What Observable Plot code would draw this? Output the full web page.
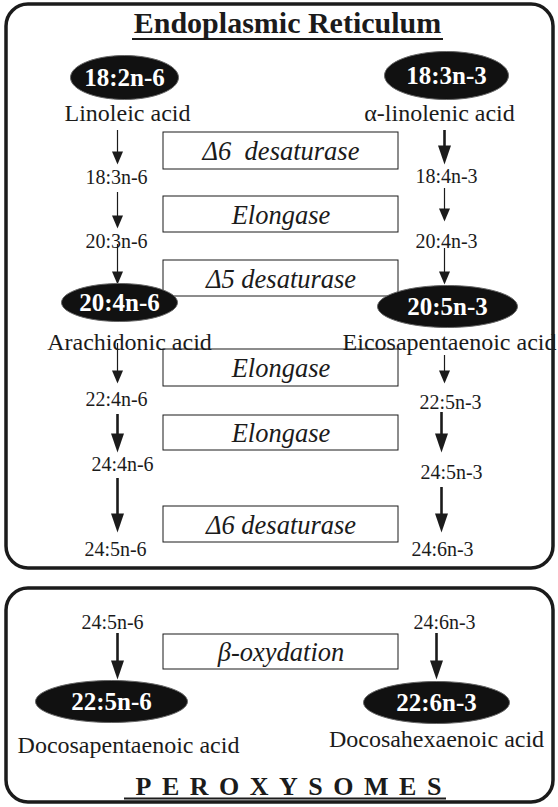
<!DOCTYPE html>
<html>
<head>
<meta charset="utf-8">
<script src="https://cdn.jsdelivr.net/npm/d3@7"></script>
<script src="https://cdn.jsdelivr.net/npm/@observablehq/plot@0.6"></script>
<style>
  html, body { margin: 0; padding: 0; background: #fff; }
</style>
</head>
<body>
<div id="chart"></div>
<script>
// ---------- content (data) ----------
const compartments = ["Endoplasmic Reticulum", "PEROXYSOMES"];
const n6Chain = ["18:2n-6", "18:3n-6", "20:3n-6", "20:4n-6", "22:4n-6", "24:4n-6", "24:5n-6"];
const n3Chain = ["18:3n-3", "18:4n-3", "20:4n-3", "20:5n-3", "22:5n-3", "24:5n-3", "24:6n-3"];
const n6Names = ["Linoleic acid", "Arachidonic acid"];
const n3Names = ["α-linolenic acid", "Eicosapentaenoic acid"];
const erEnzymes = ["Δ6  desaturase", "Elongase", "Δ5 desaturase", "Elongase", "Elongase", "Δ6 desaturase"];
const peroxInputs = ["24:5n-6", "24:6n-3"];
const peroxProducts = ["22:5n-6", "22:6n-3"];
const peroxNames = ["Docosapentaenoic acid", "Docosahexaenoic acid"];
const peroxEnzymes = ["β-oxydation"];

// ---------- layout (diagram geometry, in scale units) ----------
const W = 558, H = 807;
const compartmentBox = [
  {x1: 6, x2: 553, y1: 4, y2: 568},
  {x1: 6, x2: 553, y1: 588, y2: 802}
];
const titleLayout = [
  {x: 287, y: 32, ux1: 132, ux2: 443, uy: 38.5, size: 30, spacing: 0},
  {x: 288, y: 794, ux1: 124, ux2: 446, uy: 798, size: 26, spacing: 10.5}
];
const n6Step = [
  {x: 124, y: 77}, {x: 116, y: 183}, {x: 116, y: 247}, {x: 119, y: 302},
  {x: 116, y: 405}, {x: 122, y: 470}, {x: 115, y: 555}
];
const n3Step = [
  {x: 446, y: 75}, {x: 446, y: 182}, {x: 446, y: 247}, {x: 447, y: 306},
  {x: 450, y: 408}, {x: 451, y: 478}, {x: 442, y: 555}
];
const ellipseSize = {
  "18:2n-6": [54, 22], "18:3n-3": [62, 24], "20:4n-6": [58, 19], "20:5n-3": [70, 21],
  "22:5n-6": [76, 21], "22:6n-3": [73, 21]
};
const nameLayout = [
  {x: 127, y: 120}, {x: 129, y: 349},
  {x: 439, y: 120}, {x: 449, y: 349}
];
const enzymeBox = [
  {y1: 132, y2: 169}, {y1: 196, y2: 232}, {y1: 260, y2: 296},
  {y1: 349, y2: 386}, {y1: 415, y2: 450}, {y1: 506, y2: 542}
];
const peroxEnzymeBox = [{y1: 634, y2: 669}];
const boxX = [163, 398];
const arrowLayout = [
  {x: 117, y1: 130, y2: 164, thick: false},
  {x: 117, y1: 192, y2: 228, thick: false},
  {x: 117, y1: 244, y2: 284, thick: false},
  {x: 117, y1: 343, y2: 383, thick: false},
  {x: 117, y1: 414, y2: 452, thick: true},
  {x: 117, y1: 478, y2: 532, thick: true},
  {x: 444, y1: 130, y2: 164, thick: true},
  {x: 444, y1: 188, y2: 221, thick: false},
  {x: 444, y1: 248, y2: 284, thick: false},
  {x: 444, y1: 355, y2: 383, thick: false},
  {x: 441, y1: 412, y2: 452, thick: true},
  {x: 441, y1: 487, y2: 532, thick: true},
  {x: 117, y1: 633, y2: 679, thick: true},
  {x: 436, y1: 633, y2: 679, thick: true}
];
const peroxInputLayout = [{x: 112, y: 628}, {x: 444, y: 628}];
const peroxProductLayout = [{x: 111, y: 701}, {x: 436, y: 702}];
const peroxNameLayout = [{x: 128, y: 752}, {x: 436, y: 746}];

// ---------- build tables ----------
const serif = "Liberation Serif, Times New Roman, serif";
const ink = "#1b1b1b";

const ovalNodes = [
  {label: n6Chain[0], ...n6Step[0]}, {label: n3Chain[0], ...n3Step[0]},
  {label: n6Chain[3], ...n6Step[3]}, {label: n3Chain[3], ...n3Step[3]},
  {label: peroxProducts[0], ...peroxProductLayout[0]}, {label: peroxProducts[1], ...peroxProductLayout[1]}
];
const plainSteps = [];
[1, 2, 4, 5, 6].forEach(i => {
  plainSteps.push({label: n6Chain[i], ...n6Step[i]});
  plainSteps.push({label: n3Chain[i], ...n3Step[i]});
});
peroxInputs.forEach((l, i) => plainSteps.push({label: l, ...peroxInputLayout[i]}));

const names = [
  {label: n6Names[0], ...nameLayout[0]}, {label: n6Names[1], ...nameLayout[1]},
  {label: n3Names[0], ...nameLayout[2]}, {label: n3Names[1], ...nameLayout[3]},
  {label: peroxNames[0], ...peroxNameLayout[0]}, {label: peroxNames[1], ...peroxNameLayout[1]}
];
const enzymes = erEnzymes.map((e, i) => ({label: e, x1: boxX[0], x2: boxX[1], ...enzymeBox[i]}))
  .concat(peroxEnzymes.map((e, i) => ({label: e, x1: boxX[0], x2: boxX[1], ...peroxEnzymeBox[i]})));
const titles = compartments.map((t, i) => ({label: t, ...titleLayout[i]}));

// ---------- custom symbols ----------
function ellipseSymbol(aspect) {
  return {
    draw(ctx, size) {
      const ry = Math.sqrt(size / Math.PI), rx = ry * aspect, k = 0.5523;
      ctx.moveTo(rx, 0);
      ctx.bezierCurveTo(rx, k * ry, k * rx, ry, 0, ry);
      ctx.bezierCurveTo(-k * rx, ry, -rx, k * ry, -rx, 0);
      ctx.bezierCurveTo(-rx, -k * ry, -k * rx, -ry, 0, -ry);
      ctx.bezierCurveTo(k * rx, -ry, rx, -k * ry, rx, 0);
      ctx.closePath();
    }
  };
}
function headSymbol(w, l) {
  return {
    draw(ctx) {
      ctx.moveTo(-w / 2, -l);
      ctx.lineTo(w / 2, -l);
      ctx.lineTo(0, 0);
      ctx.closePath();
    }
  };
}
const thinHead = headSymbol(11, 13);
const thickHead = headSymbol(13, 19);

const marks = [
  Plot.rect(compartmentBox, {x1: "x1", x2: "x2", y1: "y1", y2: "y2", fill: "none", stroke: ink, strokeWidth: 3.5, rx: 22}),
  Plot.rect(enzymes, {x1: "x1", x2: "x2", y1: "y1", y2: "y2", fill: "white", stroke: ink, strokeWidth: 1}),
  Plot.text(enzymes, {x: d => (d.x1 + d.x2) / 2, y: d => (d.y1 + d.y2) / 2 + 1, text: "label", fontFamily: serif, fontStyle: "italic", fontSize: 26.5, fill: ink, lineAnchor: "middle"}),
  Plot.ruleX(arrowLayout.filter(d => !d.thick), {x: "x", y1: "y1", y2: d => d.y2 - 8, stroke: ink, strokeWidth: 1.2}),
  Plot.ruleX(arrowLayout.filter(d => d.thick), {x: "x", y1: "y1", y2: d => d.y2 - 10, stroke: ink, strokeWidth: 2.6}),
  Plot.dot(arrowLayout.filter(d => !d.thick), {x: "x", y: "y2", r: 5, symbol: thinHead, fill: ink, stroke: "none"}),
  Plot.dot(arrowLayout.filter(d => d.thick), {x: "x", y: "y2", r: 5, symbol: thickHead, fill: ink, stroke: "none"}),
  ...ovalNodes.map(d => {
    const [rx, ry] = ellipseSize[d.label];
    return Plot.dot([d], {x: "x", y: "y", r: ry, symbol: ellipseSymbol(rx / ry), fill: "#111", stroke: "#666", strokeWidth: 1});
  }),
  Plot.text(ovalNodes, {x: "x", y: "y", text: "label", fontFamily: serif, fontWeight: "bold", fontSize: 25, fill: "white", lineAnchor: "middle"}),
  Plot.text(plainSteps, {x: "x", y: "y", text: "label", fontFamily: serif, fontSize: 20, fill: ink, lineAnchor: "bottom"}),
  Plot.text(names, {x: "x", y: "y", text: "label", fontFamily: serif, fontSize: 24, fill: ink, lineAnchor: "bottom"}),
  Plot.text(titles.slice(0, 1), {x: "x", y: "y", text: "label", fontFamily: serif, fontWeight: "bold", fontSize: titleLayout[0].size, fill: ink, lineAnchor: "bottom"}),
  Plot.text(titles.slice(1), {x: d => d.x + d.spacing / 2, y: "y", text: "label", fontFamily: serif, fontWeight: "bold", fontSize: titleLayout[1].size, fill: ink, lineAnchor: "bottom"}),
  Plot.ruleY(titles, {y: "uy", x1: "ux1", x2: "ux2", stroke: ink, strokeWidth: 2.2})
];

const svg = Plot.plot({
  width: W,
  height: H,
  margin: 0,
  x: {domain: [0, W], range: [0, W], axis: null},
  y: {domain: [0, H], range: [0, H], axis: null},
  style: {background: "white", overflow: "visible"},
  marks
});

d3.select(svg).selectAll("text").filter(function () { return this.textContent === compartments[1]; })
  .attr("letter-spacing", titleLayout[1].spacing);

document.getElementById("chart").appendChild(svg);
</script>
</body>
</html>
